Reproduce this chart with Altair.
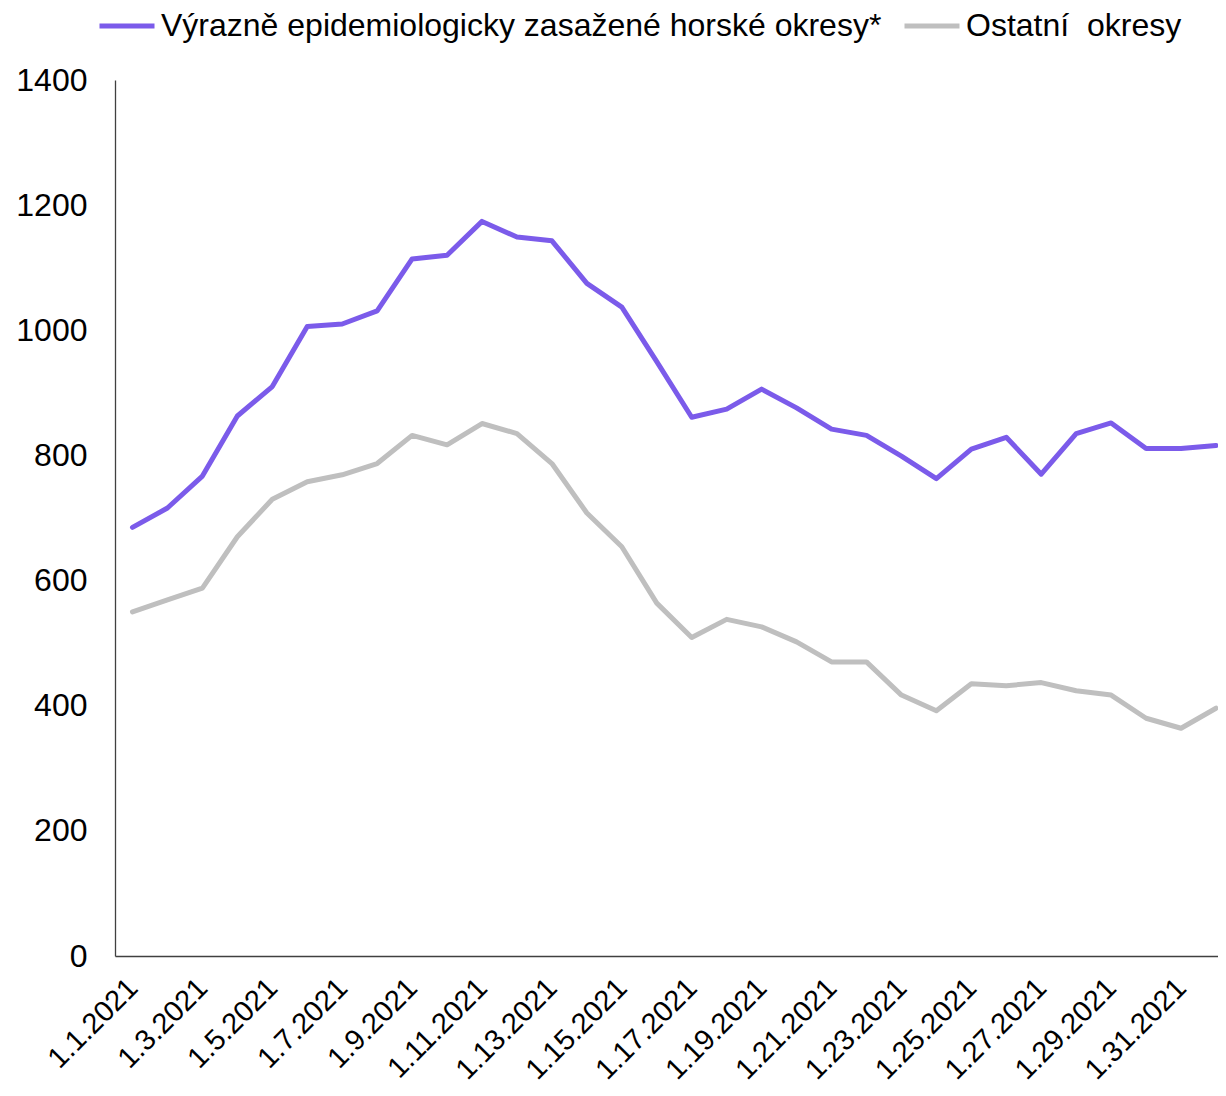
import altair as alt
import pandas as pd

categories = [f"1.{d}.2021" for d in range(1, 32)] + ["2.1.2021"]
shown_labels = [categories[i] for i in range(0, 32, 2)]

series_names = ["Výrazně epidemiologicky zasažené horské okresy*", "Ostatní\u00a0 okresy"]
series_colors = ["#7B5BEA", "#BFBFBF"]

mountain = [685, 716, 767, 863, 910, 1006, 1010, 1031, 1114, 1120, 1174, 1149, 1143, 1075,
            1037, 950, 861, 874, 906, 876, 842, 832, 799, 763, 810, 829, 770, 835, 852, 811,
            811, 816]
others = [550, 569, 588, 670, 730, 758, 769, 787, 832, 817, 851, 835, 787, 708, 654, 564,
          509, 538, 526, 502, 470, 470, 417, 392, 435, 432, 437, 424, 417, 380, 364, 396]

y_ticks = [0, 200, 400, 600, 800, 1000, 1200, 1400]

rows = []
for name, vals in zip(series_names, [mountain, others]):
    for i, (c, v) in enumerate(zip(categories, vals)):
        rows.append({"date": c, "value": v, "series": name, "idx": i})
df = pd.DataFrame(rows)

FONT = "Liberation Sans"

chart = alt.Chart(df).mark_line(strokeWidth=5, strokeJoin="round", strokeCap="round").encode(
    x=alt.X("date:N", sort=categories, title=None,
            scale=alt.Scale(type="point", padding=0.279, align=0.897),
            axis=alt.Axis(values=shown_labels, labelAngle=-45, labelAlign="right",
                          labelBaseline="middle", labelFontSize=29, labelFont=FONT,
                          labelColor="#000000", labelPadding=27, labelOffset=0,
                          ticks=False, grid=False, domainColor="#404040", domainWidth=1.3,
                          labelOverlap=False)),
    y=alt.Y("value:Q", title=None,
            scale=alt.Scale(domain=[0, 1400], nice=False, zero=True),
            axis=alt.Axis(values=y_ticks, format="d", labelFontSize=32, labelFont=FONT,
                          labelColor="#000000", labelPadding=28, ticks=False, grid=False,
                          domainColor="#404040", domainWidth=1.3)),
    color=alt.Color("series:N", sort=series_names,
                    scale=alt.Scale(domain=series_names, range=series_colors),
                    legend=alt.Legend(title=None, orient="none", legendX=-18, legendY=-84,
                                      direction="horizontal", symbolType="stroke",
                                      symbolSize=3025, symbolStrokeWidth=5,
                                      labelFontSize=32, labelFont=FONT, labelColor="#000000",
                                      labelOffset=4, columnPadding=12, labelLimit=1000)),
    order="idx:Q",
).properties(
    width=1103,
    height=876,
    autosize=alt.AutoSizeParams(type="none"),
    padding={"left": 107, "top": 72, "right": 0, "bottom": 132},
).configure(font=FONT).configure_view(strokeWidth=0)

chart.save("out.html", embed_options={"renderer": "svg", "actions": False})
